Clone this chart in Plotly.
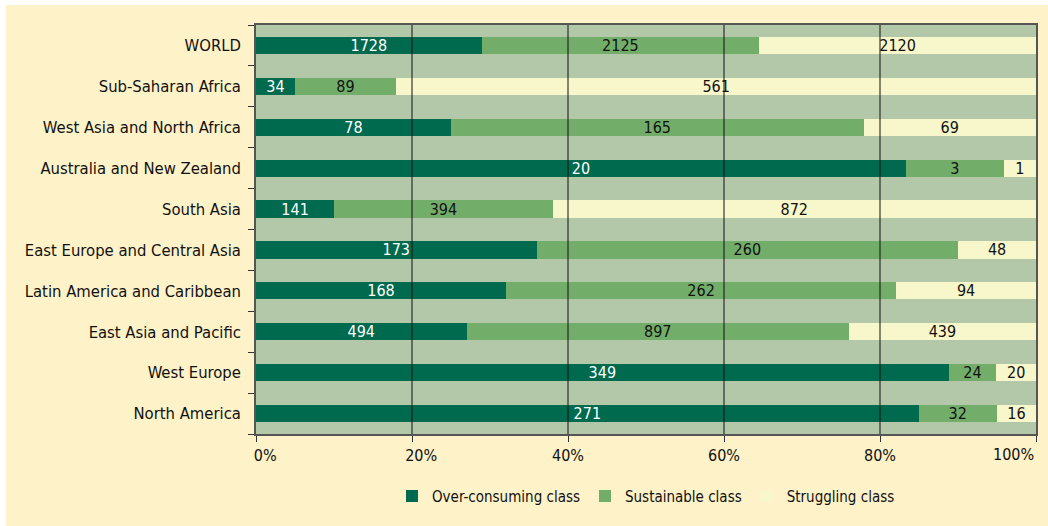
import plotly.graph_objects as go

regions = ["WORLD", "Sub-Saharan Africa", "West Asia and North Africa",
           "Australia and New Zealand", "South Asia", "East Europe and Central Asia",
           "Latin America and Caribbean", "East Asia and Pacific", "West Europe",
           "North America"]
over_consuming = [1728, 34, 78, 20, 141, 173, 168, 494, 349, 271]
sustainable = [2125, 89, 165, 3, 394, 260, 262, 897, 24, 32]
struggling = [2120, 561, 69, 1, 872, 48, 94, 439, 20, 16]
series_names = ["Over-consuming class", "Sustainable class", "Struggling class"]
x_ticks = [0, 20, 40, 60, 80, 100]
x_tick_labels = ["0%", "20%", "40%", "60%", "80%", "100%"]

NB = "\u00a0"
colors = ["#006A4F", "#72AE6A", "#F8F7CB"]
text_colors = ["white", "#111111", "#111111"]
FONT = "Liberation Sans Narrow, DejaVu Sans Condensed, Liberation Sans, sans-serif"

totals = [a + b + c for a, b, c in zip(over_consuming, sustainable, struggling)]

fig = go.Figure()
for name, vals, col, tcol in zip(series_names, [over_consuming, sustainable, struggling],
                                 colors, text_colors):
    pct = [v / t * 100 for v, t in zip(vals, totals)]
    fig.add_trace(go.Bar(
        y=regions, x=pct, orientation="h", name=name,
        marker=dict(color=col, line=dict(width=0)),
        text=[str(v) for v in vals], textposition="inside",
        insidetextanchor="middle", textangle=0, constraintext="none",
        textfont=dict(color=tcol, size=16, family=FONT),
        hoverinfo="skip",
    ))

# white page edge at top / left, rest is cream (paper)
fig.add_shape(type="rect", xref="paper", yref="paper", x0=-256 / 780, x1=(6 - 256) / 780,
              y0=-1, y1=2, fillcolor="white", line=dict(width=0), layer="below")
fig.add_shape(type="rect", xref="paper", yref="paper", x0=-1, x1=2,
              y0=1 + 20 / 409, y1=2, fillcolor="white", line=dict(width=0), layer="below")
# gridlines drawn over bars
for xv in x_ticks[1:-1]:
    fig.add_shape(type="line", xref="x", yref="paper", x0=xv, x1=xv, y0=0, y1=1,
                  line=dict(color="#111111", width=1), layer="above")

# tick labels: first two nudged right, last one right-aligned to the axis end
tick_text = [NB * 4 + t if i < 2 else t for i, t in enumerate(x_tick_labels[:-1])] + [""]
fig.add_annotation(x=x_ticks[-1], xref="x", y=0, yref="paper", yanchor="top",
                   xanchor="right", yshift=-9, text=x_tick_labels[-1], showarrow=False,
                   font=dict(size=16, family=FONT, color="#111111"))

fig.update_layout(
    barmode="stack",
    bargap=0.58,
    width=1048, height=526,
    margin=dict(l=256, r=12, t=25, b=92, autoexpand=False),
    paper_bgcolor="#FEF2C8",
    plot_bgcolor="#B3C8A9",
    font=dict(family=FONT, size=16, color="#111111"),
    legend=dict(orientation="h", x=0.5, xanchor="center", y=-0.152, yanchor="middle",
                font=dict(size=15, family=FONT), traceorder="normal",
                itemwidth=30, bgcolor="rgba(0,0,0,0)"),
    xaxis=dict(range=[0, 100], tickvals=x_ticks, ticktext=tick_text,
               showgrid=False, zeroline=False, showline=True, linecolor="#555555",
               linewidth=1.5, mirror=True, ticks="outside", ticklen=6,
               tickcolor="#333333", tickfont=dict(size=16, family=FONT),
               automargin=False),
    yaxis=dict(categoryorder="array", categoryarray=regions[::-1],
               showgrid=False, showline=True, linecolor="#555555", linewidth=1.5,
               mirror=True, ticks="outside", tickson="boundaries", ticklen=6,
               tickcolor="#333333", ticklabelstandoff=10, automargin=False,
               tickfont=dict(size=16.5, family=FONT)),
)

fig.write_html("out.html", config={"displayModeBar": False},
               post_script="document.body.style.margin='0';document.body.style.overflow='hidden';")
